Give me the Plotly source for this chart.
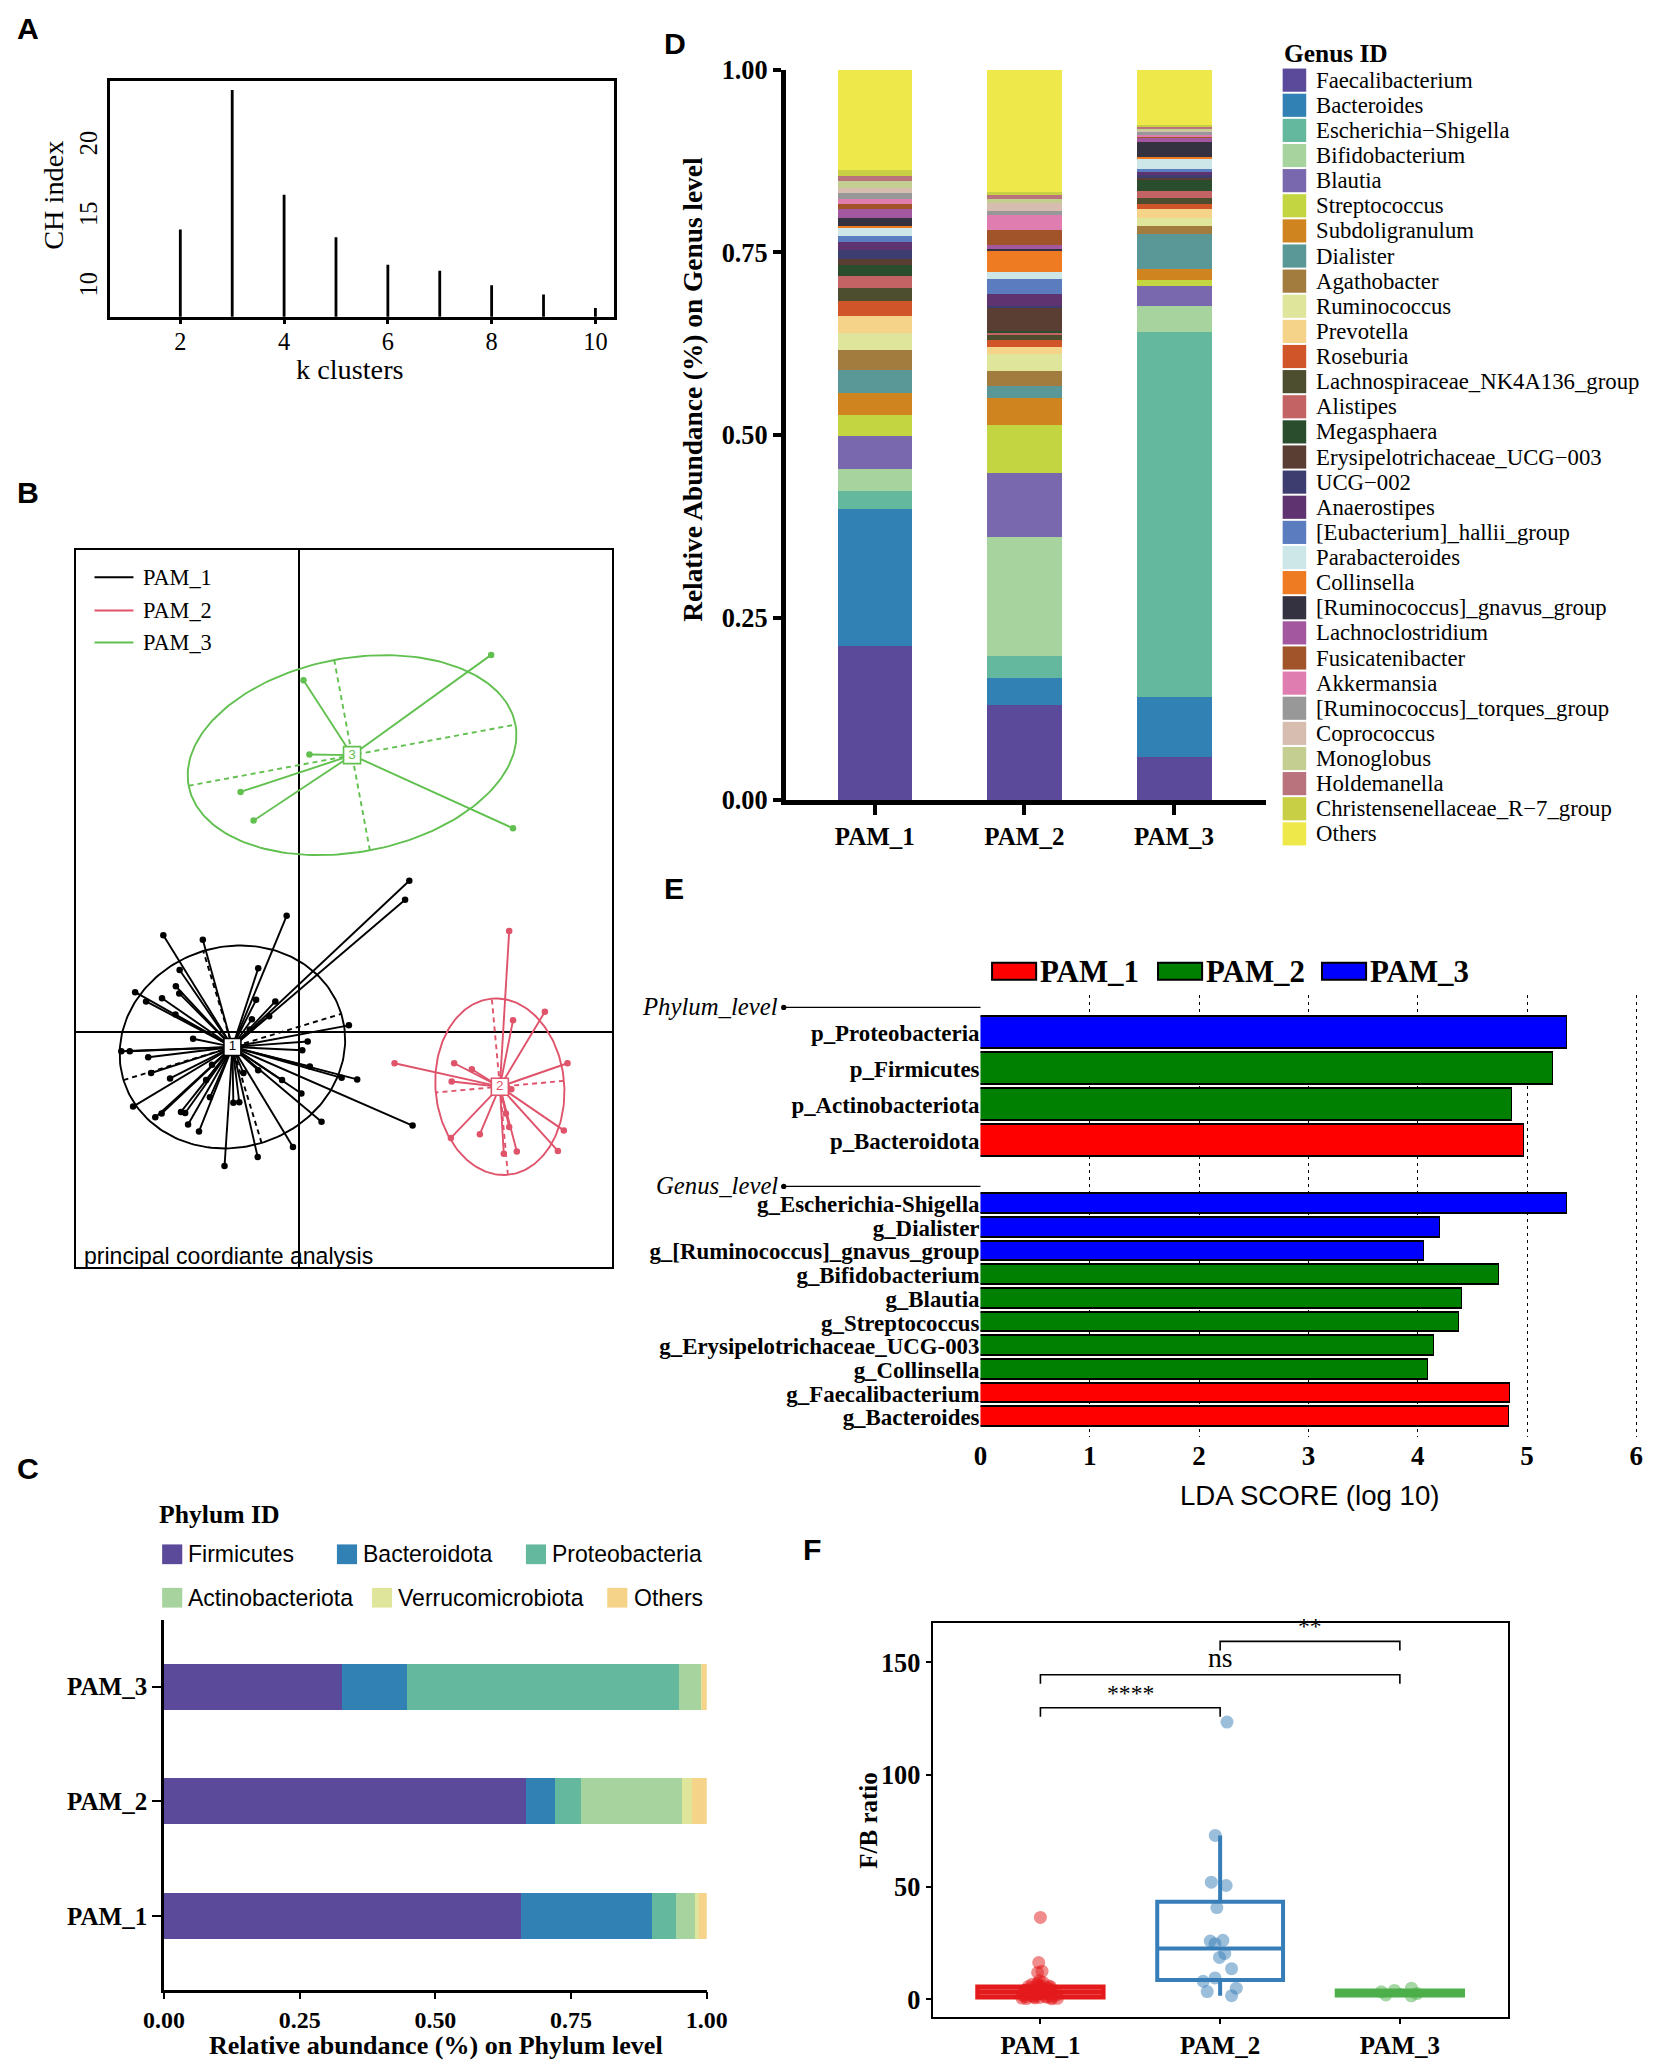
import numpy as np
import plotly.graph_objects as go

# ======================= DATA =======================
# Panel A : CH index per number of clusters
k_clusters = [2, 3, 4, 5, 6, 7, 8, 9, 10]
ch_index = [14.14, 24.02, 16.60, 13.60, 11.65, 11.22, 10.20, 9.53, 8.59]

# Panel B : PCoA coordinates per cluster
pam1_pc1 = [0.839, 0.807, -0.093, -1.030, -0.730, -0.309, -0.906, -0.935, -1.244, -1.161,
            -1.040, -0.909, -0.938, -0.325, -0.179, -0.357, -0.226, -0.804, -1.349, -1.285,
            -1.145, 0.380, 0.067, 0.026, 0.083, -1.123, -0.979, 0.325, 0.443, -0.128,
            -0.705, 0.019, -1.260, -1.043, -1.091, -0.896, -0.864, -0.842, -0.759, -0.498,
            -0.453, 0.172, 0.864, -0.045, -0.313, -0.565, -0.660, -0.373, -0.421, -0.309, -0.676]
pam1_pc2 = [1.152, 1.008, 0.885, 0.737, 0.704, 0.486, 0.473, 0.350, 0.305, 0.235,
            0.259, 0.296, 0.136, 0.247, 0.235, 0.099, 0.123, -0.049, -0.144, -0.144,
            -0.189, 0.053, -0.070, -0.136, -0.259, -0.309, -0.350, -0.346, -0.358, -0.362,
            -0.362, -0.465, -0.564, -0.617, -0.646, -0.605, -0.613, -0.700, -0.753, -0.535,
            -0.531, -0.679, -0.708, -0.872, -0.947, -1.016, -0.247, 0.021, -0.309, -0.288, -0.494]
pam2_pc1 = [1.598, 1.869, 1.627, 2.041, 0.727, 1.180, 1.314, 1.161, 1.614, 2.013, 1.155,
            1.375, 1.598, 1.557, 1.656, 1.968, 1.573]
pam2_pc2 = [0.770, 0.156, 0.091, -0.235, -0.235, -0.235, -0.280, -0.374, -0.432, -0.745,
            -0.802, -0.774, -0.720, -0.922, -0.905, -0.901, -0.617]
pam3_pc1 = [1.461, 0.035, 0.080, -0.443, -0.344, 1.627]
pam3_pc2 = [2.868, 2.675, 2.111, 1.827, 1.609, 1.551]
cluster_labels = ["1", "2", "3"]
cluster_cx = [-0.505, 1.527, 0.404]
cluster_cy = [-0.111, -0.413, 2.106]
ellipse_a = [0.865, 0.672, 1.263]
ellipse_b = [0.762, 0.489, 0.736]
ellipse_angle = [16.9, 95.2, 10.6]

groups = ["PAM_1", "PAM_2", "PAM_3"]

# Panel C : phylum relative abundance
phylum_names = ["Firmicutes", "Bacteroidota", "Proteobacteria", "Actinobacteriota",
                "Verrucomicrobiota", "Others"]
phylum_colors = ["#5B4A9A", "#3281B5", "#63B89E", "#A6D39E", "#DFE69C", "#F5D48A"]
phylum_pam1 = [0.657, 0.243, 0.043, 0.036, 0.006, 0.015]
phylum_pam2 = [0.667, 0.053, 0.049, 0.185, 0.018, 0.028]
phylum_pam3 = [0.328, 0.119, 0.501, 0.043, 0.001, 0.008]

# Panel D : genus relative abundance
genus_names = ["Faecalibacterium", "Bacteroides", "Escherichia−Shigella", "Bifidobacterium",
               "Blautia", "Streptococcus", "Subdoligranulum", "Dialister", "Agathobacter",
               "Ruminococcus", "Prevotella", "Roseburia", "Lachnospiraceae_NK4A136_group",
               "Alistipes", "Megasphaera", "Erysipelotrichaceae_UCG−003", "UCG−002",
               "Anaerostipes", "[Eubacterium]_hallii_group", "Parabacteroides", "Collinsella",
               "[Ruminococcus]_gnavus_group", "Lachnoclostridium", "Fusicatenibacter",
               "Akkermansia", "[Ruminococcus]_torques_group", "Coprococcus", "Monoglobus",
               "Holdemanella", "Christensenellaceae_R−7_group", "Others"]
genus_colors = ["#5B4A9A", "#3281B5", "#63B89E", "#A6D39E", "#7A68AE", "#C3D641", "#D0841F",
                "#5A9898", "#A27B3F", "#DFE69C", "#F5D48A", "#D05528", "#4D4D30", "#C46363",
                "#2A4D2E", "#5A3E33", "#3E3D70", "#5F3370", "#5B7CBF", "#CDE7E9", "#EE7B22",
                "#343240", "#A3579F", "#A1542A", "#E07DB0", "#989898", "#D7BDB0", "#C3CE90",
                "#B9737C", "#C9CF45", "#EFE84A"]
genus_pam1 = [0.2114, 0.187, 0.025, 0.030, 0.046, 0.028, 0.030, 0.032, 0.027, 0.023, 0.024,
              0.021, 0.017, 0.016, 0.016, 0.0074, 0.013, 0.011, 0.0074, 0.011, 0.0037, 0.010,
              0.0126, 0.0074, 0.0067, 0.008, 0.0074, 0.009, 0.0074, 0.0074, 0.1372]
genus_pam2 = [0.1306, 0.0364, 0.0304, 0.1632, 0.0883, 0.0645, 0.0378, 0.0163, 0.0208, 0.0223,
              0.0096, 0.0104, 0.006, 0.003, 0.0037, 0.0304, 0.0037, 0.0163, 0.0208, 0.0089,
              0.0282, 0.0037, 0.0045, 0.0215, 0.020, 0.006, 0.011, 0.0052, 0.006, 0.003, 0.1675]
genus_pam3 = [0.0593, 0.0823, 0.4993, 0.0363, 0.0274, 0.0082, 0.0148, 0.0482, 0.0104, 0.0111,
              0.0126, 0.0067, 0.0082, 0.0096, 0.0148, 0.003, 0.0045, 0.0037, 0.0045, 0.0126,
              0.003, 0.0215, 0.0045, 0.003, 0.0022, 0.003, 0.003, 0.0022, 0.0022, 0.0022, 0.0757]

# Panel E : LEfSe LDA scores
lda_phylum = ["p_Proteobacteria", "p_Firmicutes", "p_Actinobacteriota", "p_Bacteroidota"]
lda_phylum_score = [5.37, 5.24, 4.87, 4.98]
lda_phylum_group = ["PAM_3", "PAM_2", "PAM_2", "PAM_1"]
lda_genus = ["g_Escherichia-Shigella", "g_Dialister", "g_[Ruminococcus]_gnavus_group",
             "g_Bifidobacterium", "g_Blautia", "g_Streptococcus", "g_Erysipelotrichaceae_UCG-003",
             "g_Collinsella", "g_Faecalibacterium", "g_Bacteroides"]
lda_genus_score = [5.37, 4.21, 4.06, 4.75, 4.41, 4.38, 4.15, 4.10, 4.85, 4.84]
lda_genus_group = ["PAM_3", "PAM_3", "PAM_3", "PAM_2", "PAM_2", "PAM_2", "PAM_2", "PAM_2",
                   "PAM_1", "PAM_1"]
lda_ticks = [0, 1, 2, 3, 4, 5, 6]

# Panel F : F/B ratio
fb_pam1 = [36.5, 16.4, 12.6, 12.0, 8.4, 7.6, 7.2, 6.8, 6.5, 6.2, 6.0, 5.8, 5.5, 5.4, 5.2, 5.0,
           4.8, 4.6, 4.4, 4.2, 4.1, 4.0, 3.8, 3.6, 3.4, 3.3, 3.2, 3.0, 3.0, 2.9, 2.8, 2.6, 2.5,
           2.4, 2.2, 2.0, 2.0, 1.8, 1.6, 1.5, 1.4, 1.2, 1.1, 1.0, 0.9, 0.8, 0.7, 0.6, 0.5, 0.4, 0.3]
fb_pam2 = [123.4, 73.0, 52.2, 50.7, 40.9, 26.3, 26.0, 24.8, 20.5, 18.7, 13.7, 9.6, 8.1, 5.0,
           3.5, 1.7]
fb_pam3 = [5.0, 4.0, 3.4, 2.6, 2.0, 1.6]
fb_q1 = [1.0, 8.7, 1.9]
fb_median = [3.3, 22.7, 2.9]
fb_q3 = [5.6, 43.5, 3.9]
fb_lower = [0.3, 1.7, 1.6]
fb_upper = [8.4, 73.0, 5.0]
sig_pairs = [(1, 2), (1, 3), (2, 3)]
sig_labels = ["****", "ns", "**"]
sig_heights = [129.8, 144.5, 159.3]

# ======================= HELPERS =======================
W, H = 1653, 2067
SX = 1256.0
K = W / SX
SY = H / K
OFF = 8 / K          # page body margin compensation
SERIF = "Liberation Serif, Times New Roman, serif"
SANS = "Liberation Sans, Arial, sans-serif"
NARROW = "Liberation Sans Narrow, Liberation Sans, Arial, sans-serif"


def px(x):
    return (x - OFF) / SX


def py(y):
    return 1 - (y - OFF) / SY


annotations = []
shapes = []


def text(sx, sy, s, size, family=SERIF, weight="normal", xanchor="left", yanchor="middle",
         angle=0, style="normal", color="black"):
    annotations.append(dict(x=px(sx), y=py(sy), xref="paper", yref="paper", text=s,
                            showarrow=False, xanchor=xanchor, yanchor=yanchor, textangle=angle,
                            font=dict(family=family, size=size * K, color=color,
                                      weight=weight, style=style)))


def rect(x0, y0, x1, y1, fill, lc=None, lw=0):
    shapes.append(dict(type="rect", xref="paper", yref="paper", x0=px(x0), x1=px(x1),
                       y0=py(y1), y1=py(y0), fillcolor=fill,
                       line=dict(color=lc if lc else fill, width=lw)))


def pline(x0, y0, x1, y1, color="black", width=1.5):
    shapes.append(dict(type="line", xref="paper", yref="paper", x0=px(x0), x1=px(x1),
                       y0=py(y0), y1=py(y1), line=dict(color=color, width=width)))


fig = go.Figure()

# ======================= PANEL A =======================
ax, ay = [], []
for k, v in zip(k_clusters, ch_index):
    ax += [k, k, None]
    ay += [0, v, None]
fig.add_trace(go.Scatter(x=ax, y=ay, mode="lines", line=dict(color="black", width=2.8),
                         xaxis="x", yaxis="y", showlegend=False, hoverinfo="skip"))

# ======================= PANEL B =======================
b_colors = ["#000000", "#DF536B", "#61C04F"]
b_pts = [(pam1_pc1, pam1_pc2), (pam2_pc1, pam2_pc2), (pam3_pc1, pam3_pc2)]
t = np.linspace(0, 2 * np.pi, 200)
for gi in range(3):
    col = b_colors[gi]
    cx, cy = cluster_cx[gi], cluster_cy[gi]
    a, b = ellipse_a[gi], ellipse_b[gi]
    th = np.deg2rad(ellipse_angle[gi])
    ex = cx + a * np.cos(th) * np.cos(t) - b * np.sin(th) * np.sin(t)
    ey = cy + a * np.sin(th) * np.cos(t) + b * np.cos(th) * np.sin(t)
    fig.add_trace(go.Scatter(x=ex, y=ey, mode="lines", line=dict(color=col, width=1.9),
                             xaxis="x2", yaxis="y2", showlegend=False, hoverinfo="skip"))
    dx = [cx - a * np.cos(th), cx + a * np.cos(th), None, cx + b * np.sin(th), cx - b * np.sin(th)]
    dy = [cy - a * np.sin(th), cy + a * np.sin(th), None, cy - b * np.cos(th), cy + b * np.cos(th)]
    fig.add_trace(go.Scatter(x=dx, y=dy, mode="lines",
                             line=dict(color=col, width=1.9, dash="5px,4px"),
                             xaxis="x2", yaxis="y2", showlegend=False, hoverinfo="skip"))
    sxs, sys_ = [], []
    for xv, yv in zip(*b_pts[gi]):
        sxs += [cx, xv, None]
        sys_ += [cy, yv, None]
    fig.add_trace(go.Scatter(x=sxs, y=sys_, mode="lines", line=dict(color=col, width=1.9),
                             xaxis="x2", yaxis="y2", showlegend=False, hoverinfo="skip"))
    fig.add_trace(go.Scatter(x=b_pts[gi][0], y=b_pts[gi][1], mode="markers",
                             marker=dict(color=col, size=6.5), xaxis="x2", yaxis="y2",
                             showlegend=False, hoverinfo="skip"))
for gi in range(3):
    fig.add_trace(go.Scatter(x=[cluster_cx[gi]], y=[cluster_cy[gi]], mode="markers+text",
                             text=[cluster_labels[gi]], textposition="middle center",
                             textfont=dict(family=SANS, size=13.5, color=b_colors[gi]),
                             marker=dict(symbol="square", size=17, color="white",
                                         line=dict(color=b_colors[gi], width=1.6)),
                             xaxis="x2", yaxis="y2", showlegend=False, hoverinfo="skip"))

# ======================= PANEL C =======================
c_vals = [phylum_pam1, phylum_pam2, phylum_pam3]
for i, name in enumerate(phylum_names):
    fig.add_trace(go.Bar(orientation="h", y=groups, x=[c_vals[g][i] for g in range(3)],
                         marker=dict(color=phylum_colors[i], line=dict(width=0)), width=0.4,
                         xaxis="x3", yaxis="y3", showlegend=False, name=name))

# ======================= PANEL D =======================
d_vals = [genus_pam1, genus_pam2, genus_pam3]
for i, name in enumerate(genus_names):
    fig.add_trace(go.Bar(x=groups, y=[d_vals[g][i] for g in range(3)],
                         marker=dict(color=genus_colors[i], line=dict(width=0)), width=0.5,
                         xaxis="x4", yaxis="y4", showlegend=False, name=name))

# ======================= PANEL E =======================
E_PHY_PITCH = 1.52
E_GEN_START = 7.22
e_phy_y = [i * E_PHY_PITCH for i in range(len(lda_phylum))]
e_gen_y = [E_GEN_START + j for j in range(len(lda_genus))]
e_names = lda_phylum + lda_genus
e_scores = lda_phylum_score + lda_genus_score
e_groups = lda_phylum_group + lda_genus_group
e_pos = e_phy_y + e_gen_y
e_width = [1.33] * len(lda_phylum) + [0.83] * len(lda_genus)
e_colors = {"PAM_1": "#FF0000", "PAM_2": "#008000", "PAM_3": "#0000FF"}
for g in groups:
    idx = [i for i, gg in enumerate(e_groups) if gg == g]
    fig.add_trace(go.Bar(orientation="h", x=[e_scores[i] for i in idx],
                         y=[e_pos[i] for i in idx], width=[e_width[i] for i in idx],
                         marker=dict(color=e_colors[g], line=dict(color="black", width=1.6)),
                         xaxis="x5", yaxis="y5", showlegend=False, name=g))

# ======================= PANEL F =======================
f_colors = ["#E41A1C", "#377EB8", "#4DAF4A"]
f_fill = ["rgba(228,26,28,0.75)", "rgba(255,255,255,0)", "rgba(77,175,74,0.75)"]
f_lw = [4.5, 4.0, 4.5]
f_pts_colors = ["rgba(228,26,28,0.5)", "rgba(55,126,184,0.5)", "rgba(77,175,74,0.5)"]
f_data = [fb_pam1, fb_pam2, fb_pam3]
for gi in range(3):
    fig.add_trace(go.Box(x=[gi + 1], q1=[fb_q1[gi]], median=[fb_median[gi]], q3=[fb_q3[gi]],
                         lowerfence=[fb_lower[gi]], upperfence=[fb_upper[gi]], width=0.7,
                         whiskerwidth=0, line=dict(color=f_colors[gi], width=f_lw[gi]),
                         fillcolor=f_fill[gi], boxpoints=False,
                         xaxis="x6", yaxis="y6", showlegend=False, hoverinfo="skip"))
for gi in range(3):
    fig.add_trace(go.Box(x=[gi + 1] * len(f_data[gi]), y=f_data[gi], boxpoints="all",
                         jitter=0.35, pointpos=0, width=0.7,
                         line=dict(color="rgba(0,0,0,0)", width=0),
                         fillcolor="rgba(0,0,0,0)",
                         marker=dict(color=f_pts_colors[gi], size=13),
                         xaxis="x6", yaxis="y6", showlegend=False, hoverinfo="skip"))
for (g1, g2), lab, hgt in zip(sig_pairs, sig_labels, sig_heights):
    shapes.append(dict(type="path", xref="x6", yref="y6",
                       path=f"M {g1},{hgt - 4} L {g1},{hgt} L {g2},{hgt} L {g2},{hgt - 4}",
                       line=dict(color="black", width=1.6)))
    annotations.append(dict(x=(g1 + g2) / 2, y=hgt, xref="x6", yref="y6", text=lab,
                            showarrow=False, xanchor="center", yanchor="bottom",
                            font=dict(family=SERIF, size=(18 if lab != "ns" else 21) * K,
                                      color="black")))

# ======================= TEXT / LEGENDS =======================
for L, (lx, ly) in zip("ABCDEF", [(21.5, 21.5), (21, 374), (21, 1116), (513, 33), (512, 675),
                                  (617, 1177)]):
    text(lx, ly, L, 23, family=SANS, weight="bold", xanchor="center")

# A titles
text(266, 281, "k clusters", 21.5, xanchor="center")
text(41, 148, "CH index", 21.5, xanchor="center", angle=-90)

# B legend
for gi, g in enumerate(groups):
    yy = [438.7, 463.8, 488.1][gi]
    pline(71.8, yy, 101.4, yy, color=b_colors[gi], width=2)
    text(107, yy, g, 17)
text(62, 954, "principal coordiante analysis", 17.5, family=SANS)

# C legend and titles
text(119, 1151, "Phylum ID", 19.5, weight="bold")
c_leg_x = [123.2, 256.0, 399.6, 123.2, 282.6, 461.4]
c_leg_y = [1181, 1181, 1181, 1214, 1214, 1214]
for i, name in enumerate(phylum_names):
    rect(c_leg_x[i], c_leg_y[i] - 7.5, c_leg_x[i] + 15.3, c_leg_y[i] + 7.5, phylum_colors[i])
    text(c_leg_x[i] + 18.5, c_leg_y[i], name, 17.5, family=SANS)
text(331, 1554, "Relative abundance (%) on Phylum level", 19.8, weight="bold",
     xanchor="center")

# D legend and title
text(974, 40, "Genus ID", 19.3, weight="bold")
for i, name in enumerate(genus_names):
    yc = 60.9 + i * 19.09
    rect(974.6, yc - 8.8, 992.5, yc + 8.8, genus_colors[i])
    text(998.5, yc, name, 17.3)
text(526, 296, "Relative Abundance (%) on Genus level", 20.8, weight="bold",
     xanchor="center", angle=-90)

# E legend, headers, title
for gi, g in enumerate(groups):
    bx = [753.8, 879.9, 1004.5][gi]
    rect(bx, 731.6, bx + 33.5, 744.5, e_colors[g], lc="black", lw=2)
    text(bx + 35, 738, g, 23.5, weight="bold")
for lab, yy in [("Phylum_level", 765.5), ("Genus_level", 901.5)]:
    text(593, yy - 1, lab, 18.8, style="italic", xanchor="right")
    pline(595, yy, 745, yy, width=1.3)
    shapes.append(dict(type="circle", xref="paper", yref="paper", x0=px(593.5), x1=px(597.5),
                       y0=py(yy + 2), y1=py(yy - 2), fillcolor="black",
                       line=dict(color="black", width=0)))
text(995, 1136, "LDA SCORE (log 10)", 21, family=NARROW, xanchor="center")

# F title
text(660, 1383, "F/B ratio", 19, weight="bold", xanchor="center", angle=-90)

# ======================= AXES =======================
def dom_x(a, b):
    return [px(a), px(b)]


def dom_y(top, bottom):
    return [py(bottom), py(top)]


base = dict(showgrid=False, zeroline=False, linecolor="black")
layout = dict(
    template="none",
    font=dict(family=SERIF, color="black"),
    width=W, height=H, margin=dict(l=0, r=0, t=0, b=0),
    paper_bgcolor="white", plot_bgcolor="white",
    barmode="stack", boxmode="overlay", bargap=0,
    annotations=annotations, shapes=shapes,
    # A
    xaxis=dict(base, domain=dom_x(83.4, 466.6), range=[0.64, 10.36], anchor="y",
               tickvals=[2, 4, 6, 8, 10], ticks="outside", ticklen=5, tickwidth=2.5,
               tickcolor="black", showline=True, mirror=True, linewidth=2.6,
               ticklabelstandoff=-4,
               tickfont=dict(family=SERIF, size=18.5 * K, color="black")),
    yaxis=dict(base, domain=dom_y(61.7, 240.6), range=[7.97, 24.64], anchor="x",
               tickvals=[10, 15, 20], ticks="", tickangle=-90, showline=True, mirror=True,
               linewidth=2.6, tickfont=dict(family=SERIF, size=18.5 * K, color="black")),
    # B
    xaxis2=dict(base, domain=dom_x(58, 465), range=[-1.691, 2.379], anchor="y2",
                showticklabels=False, ticks="", showline=True, mirror=True, linewidth=2,
                zeroline=True, zerolinecolor="black", zerolinewidth=1.8),
    yaxis2=dict(base, domain=dom_y(418, 963), range=[-1.786, 3.664], anchor="x2",
                showticklabels=False, ticks="", showline=True, mirror=True, linewidth=2,
                zeroline=True, zerolinecolor="black", zerolinewidth=1.8),
    # C
    xaxis3=dict(base, domain=dom_x(124.6, 537), range=[0, 1.0], anchor="y3",
                tickvals=[0, 0.25, 0.5, 0.75, 1.0],
                ticktext=["0.00", "0.25", "0.50", "0.75", "1.00"],
                ticks="outside", ticklen=7, tickwidth=2.2, tickcolor="black",
                showline=True, linewidth=2.6,
                tickfont=dict(family=SERIF, size=18.2 * K, weight="bold", color="black")),
    yaxis3=dict(base, domain=dom_y(1231, 1511.8), type="category", categoryorder="array",
                categoryarray=groups, range=[-0.64, 2.58], anchor="x3", ticks="outside",
                ticklen=9, tickwidth=2.2, tickcolor="black", showline=True, linewidth=2.6,
                tickfont=dict(family=SERIF, size=19 * K, weight="bold", color="black")),
    # D
    xaxis4=dict(base, domain=dom_x(597, 962), type="category", categoryorder="array",
                categoryarray=groups, range=[-0.595, 2.615], anchor="y4", ticks="outside",
                ticklen=10, tickwidth=3.5, tickcolor="black", showline=True, linewidth=4.5,
                tickfont=dict(family=SERIF, size=19 * K, weight="bold", color="black")),
    yaxis4=dict(base, domain=dom_y(53, 608), range=[0, 1.0], anchor="x4",
                tickvals=[0, 0.25, 0.5, 0.75, 1.0],
                ticktext=["0.00", "0.25", "0.50", "0.75", "1.00"],
                ticks="outside", ticklen=8, tickwidth=3.5, tickcolor="black",
                showline=True, linewidth=4.5,
                tickfont=dict(family=SERIF, size=20 * K, weight="bold", color="black")),
    # E
    xaxis5=dict(domain=dom_x(745, 1245), range=[0, 6.02], anchor="y5", tickvals=lda_ticks,
                showgrid=True, gridcolor="black", gridwidth=1.3, griddash="3px,4px",
                zeroline=False, showline=False, ticks="",
                tickfont=dict(family=SERIF, size=20.5 * K, weight="bold", color="black")),
    yaxis5=dict(domain=dom_y(756, 1092), range=[17.06, -1.611], anchor="x5",
                tickvals=e_pos, ticktext=e_names, showgrid=False, zeroline=False,
                showline=False, ticks="",
                tickfont=dict(family=SERIF, size=17.4 * K, weight="bold", color="black")),
    # F
    xaxis6=dict(base, domain=dom_x(708.6, 1145.6), range=[0.4, 3.6], anchor="y6",
                tickvals=[1, 2, 3], ticktext=groups, ticks="outside", ticklen=5,
                tickwidth=1.8, tickcolor="black", showline=True, mirror=True, linewidth=1.8,
                tickfont=dict(family=SERIF, size=19 * K, weight="bold", color="black")),
    yaxis6=dict(base, domain=dom_y(1233.2, 1532.5), range=[-7.76, 167.5], anchor="x6",
                tickvals=[0, 50, 100, 150], ticks="outside", ticklen=5, tickwidth=1.8,
                tickcolor="black", showline=True, mirror=True, linewidth=1.8,
                tickfont=dict(family=SERIF, size=20 * K, weight="bold", color="black")),
)
fig.update_layout(**layout)
fig.write_html("out.html")
